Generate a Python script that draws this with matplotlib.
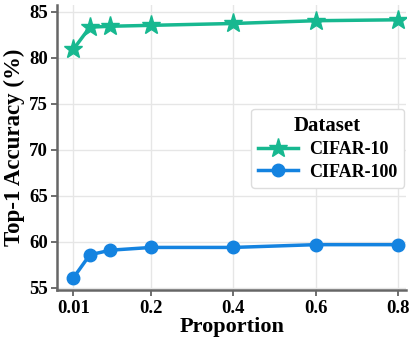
import matplotlib
matplotlib.use("Agg")
import matplotlib.pyplot as plt

# ── Data ──────────────────────────────────────────────────────────────────────
proportion = [0.01, 0.05, 0.1, 0.2, 0.4, 0.6, 0.8]
cifar10    = [80.9, 83.3, 83.4, 83.5, 83.7, 84.0, 84.1]
cifar100   = [56.1, 58.6, 59.1, 59.4, 59.4, 59.7, 59.7]
xticks     = [0.01, 0.2, 0.4, 0.6, 0.8]
xticklabels = ["0.01", "0.2", "0.4", "0.6", "0.8"]
yticks     = [55, 60, 65, 70, 75, 80, 85]

plt.rcParams["font.family"] = ["Liberation Serif", "DejaVu Serif"]
plt.rcParams["font.weight"] = "bold"

fig, ax = plt.subplots(figsize=(4.1, 3.37), dpi=100)

ax.plot(proportion, cifar10, color="#17b890", lw=2.5, marker="*", ms=14,
        label="CIFAR-10")
ax.plot(proportion, cifar100, color="#1483e0", lw=2.5, marker="o", ms=9,
        label="CIFAR-100")

ax.set_xlim(-0.029, 0.82)
ax.set_ylim(54.8, 85.7)
ax.set_xticks(xticks)
ax.set_xticklabels(xticklabels)
ax.set_yticks(yticks)
ax.tick_params(labelsize=13.5, width=1.2, length=4, pad=3, color="#555555")
for lbl in ax.get_xticklabels() + ax.get_yticklabels():
    lbl.set_fontweight("bold")

ax.set_xlabel("Proportion", fontsize=16, fontweight="bold", labelpad=0)
ax.set_ylabel("Top-1 Accuracy (%)", fontsize=16.5, fontweight="bold", labelpad=3)

ax.grid(color="#e6e6e6", lw=1)
ax.set_axisbelow(True)
for side in ["top", "right"]:
    ax.spines[side].set_visible(False)
for side in ["left", "bottom"]:
    ax.spines[side].set_color("#666666")
    ax.spines[side].set_linewidth(1.8)

leg = ax.legend(title="Dataset", loc="center right", bbox_to_anchor=(0.995, 0.497),
                borderaxespad=0, prop={"size": 13, "weight": "bold"},
                handlelength=2.2, handletextpad=0.6,
                framealpha=1, edgecolor="#dddddd", borderpad=0.4,
                labelspacing=0.3)
leg.get_title().set_fontsize(15)
leg.get_title().set_fontweight("bold")

fig.subplots_adjust(left=0.14, right=0.99, top=0.985, bottom=0.14)
fig.savefig("out.png", dpi=100)
